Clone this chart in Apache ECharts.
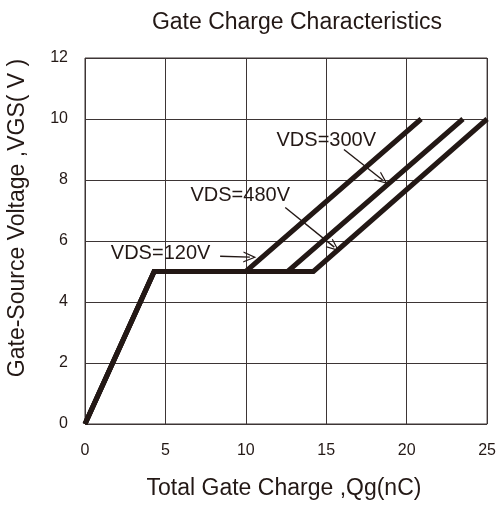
<!DOCTYPE html>
<html>
<head>
<meta charset="utf-8">
<script src="https://cdn.jsdelivr.net/npm/echarts@6/dist/echarts.min.js"></script>
<style>
  html, body { margin: 0; padding: 0; background: #fff; }
  #chart { width: 499px; height: 511px; }
</style>
</head>
<body>
<div id="chart"></div>
<script>
  // curve data: [Qg (nC), VGS (V)]
  var curve120 = [[0, 0], [4.3, 5], [10.0, 5], [20.9, 10]];
  var curve300 = [[0, 0], [4.3, 5], [12.6, 5], [23.5, 10]];
  var curve480 = [[0, 0], [4.3, 5], [14.2, 5], [25.0, 10]];

  var xTicks = [0, 5, 10, 15, 20, 25];
  var yTicks = [0, 2, 4, 6, 8, 10, 12];

  // annotation labels and their arrows (data coords)
  var labels = [
    {text: 'VDS=300V', at: [15.0, 9.3], from: [16.1, 9.0], to: [18.5, 8.0]},
    {text: 'VDS=480V', at: [9.65, 7.5], from: [12.45, 7.1], to: [15.5, 5.8]},
    {text: 'VDS=120V', at: [4.7, 5.6], from: [8.4, 5.5], to: [10.25, 5.47]}
  ];

  var chevron = 'path://M0,0 L6,12 L4.6,12 L0,2.8 L-4.6,12 L-6,12 Z';
  var lineColor = '#231815';
  var font = 'Arial, "Liberation Sans", sans-serif';

  function mkSeries (name, data, withNotes) {
    var s = {
      name: name,
      type: 'line',
      data: data,
      symbol: 'none',
      clip: false,
      lineStyle: {color: lineColor, width: 5, join: 'miter'},
      z: 3
    };
    if (withNotes) {
      s.markPoint = {
        symbol: 'rect',
        symbolSize: 0.1,
        silent: true,
        data: labels.map(function (l) {
          return {
            coord: l.at,
            label: {
              show: true,
              position: 'inside',
              formatter: l.text,
              color: '#231815',
              fontSize: 20,
              fontFamily: font
            }
          };
        })
      };
      s.markLine = {
        silent: true,
        symbol: ['none', chevron],
        symbolSize: [11, 13],
        lineStyle: {color: lineColor, width: 1.4, type: 'solid'},
        label: {show: false},
        data: labels.map(function (l) {
          return [{coord: l.from}, {coord: l.to}];
        })
      };
    }
    return s;
  }

  var chart = echarts.init(document.getElementById('chart'));
  chart.setOption({
    animation: false,
    backgroundColor: '#fff',
    title: {
      text: 'Gate Charge Characteristics',
      left: 292,
      top: 6,
      textAlign: 'center',
      textStyle: {fontSize: 23, fontWeight: 'normal', color: '#231815', fontFamily: font}
    },
    graphic: [
      {
        type: 'text',
        x: 18,
        y: 218,
        rotation: Math.PI / 2,
        style: {
          text: 'Gate-Source Voltage ,VGS( V )',
          align: 'center',
          verticalAlign: 'middle',
          fill: '#231815',
          fontSize: 23,
          fontFamily: font
        }
      },
      {
        type: 'text',
        x: 284,
        y: 489,
        style: {
          text: 'Total Gate Charge ,Qg(nC)',
          align: 'center',
          verticalAlign: 'middle',
          fill: '#231815',
          fontSize: 23,
          fontFamily: font
        }
      }
    ],
    grid: {left: 85, right: 7, top: 58, bottom: 87, show: true, borderColor: '#3d3535', borderWidth: 1},
    xAxis: {
      type: 'value',
      min: xTicks[0],
      max: xTicks[xTicks.length - 1],
      interval: 5,
      axisLine: {show: false},
      axisTick: {show: false},
      axisLabel: {fontSize: 16, color: '#231815', fontFamily: font, margin: 19},
      splitLine: {show: true, lineStyle: {color: '#3d3535', width: 1}}
    },
    yAxis: {
      type: 'value',
      min: yTicks[0],
      max: yTicks[yTicks.length - 1],
      interval: 2,
      axisLine: {show: false},
      axisTick: {show: false},
      axisLabel: {fontSize: 16, color: '#231815', fontFamily: font, margin: 17},
      splitLine: {show: true, lineStyle: {color: '#3d3535', width: 1}}
    },
    series: [
      mkSeries('VDS=120V', curve120, true),
      mkSeries('VDS=300V', curve300, false),
      mkSeries('VDS=480V', curve480, false)
    ]
  });
</script>
</body>
</html>
